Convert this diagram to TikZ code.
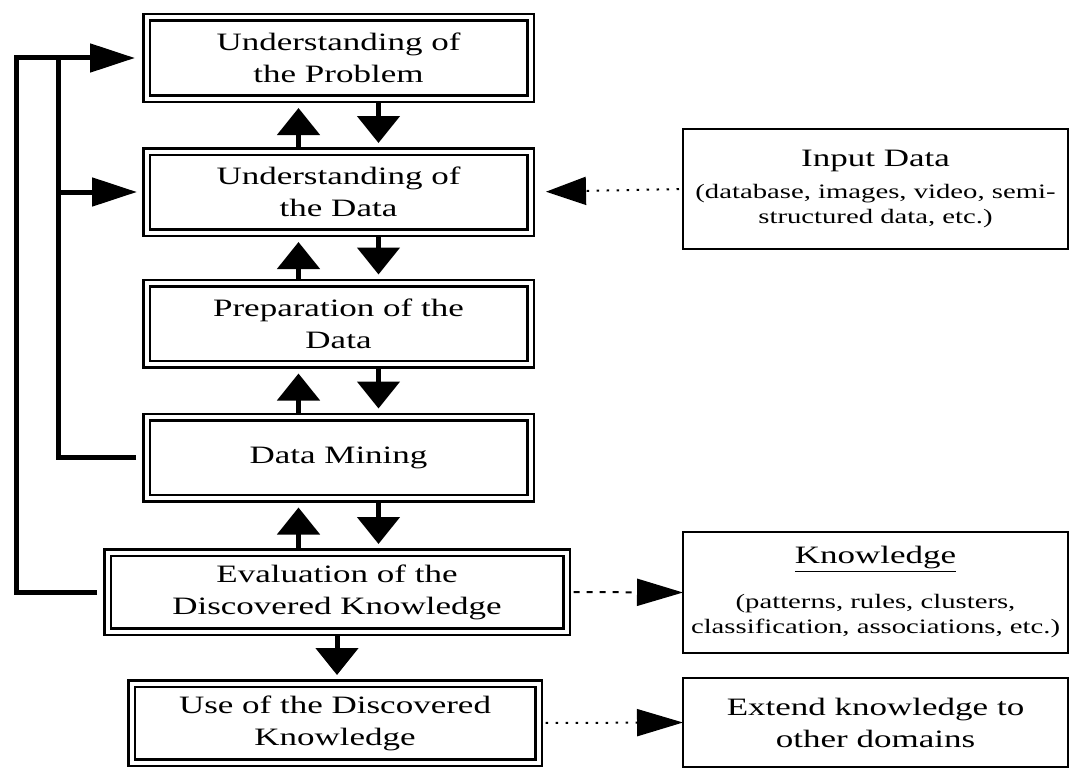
\documentclass[tikz,border=0pt]{standalone}
\usepackage{fontspec}
\setmainfont{Liberation Serif}[FakeStretch=1.4]
\usetikzlibrary{arrows.meta}
\begin{document}
\begin{tikzpicture}[x=1pt,y=-1pt,
  dbox/.style={draw, line width=2.5pt, double, double distance=4pt, outer sep=0pt, inner sep=0pt,
    align=center, font=\fontsize{25}{32}\selectfont},
  sbox/.style={draw, line width=2pt, outer sep=0pt, inner sep=0pt, align=center,
    minimum width=385pt},
  conn/.style={line width=5pt},
  stem/.style={line width=5pt, -{Triangle[length=27pt,width=42pt]}},
  htip/.style={-{Triangle[length=45pt,width=28pt]}},
  dotline/.style={line width=2pt, dash pattern=on 2.5pt off 7.5pt},
  dashline/.style={line width=2pt, dash pattern=on 6pt off 7pt},
  big/.style={font=\fontsize{25}{32}\selectfont},
  small/.style={font=\fontsize{20.5}{25}\selectfont}
]
\useasboundingbox (0,0) rectangle (1073,768);
\fill[white] (0,0) rectangle (1073,768);

\node[dbox, minimum width=384pt, minimum height=81pt] (prob) at (338.5,58) {Understanding of\\the Problem};
\node[dbox, minimum width=384pt, minimum height=81pt] (data) at (338.5,192) {Understanding of\\the Data};
\node[dbox, minimum width=384pt, minimum height=81pt] (prep) at (338.5,323.5) {Preparation of the\\Data};
\node[dbox, minimum width=384pt, minimum height=81pt] (mining) at (338.5,457.5) {Data Mining};
\node[dbox, minimum width=459pt, minimum height=79pt] (eval) at (337,592) {Evaluation of the\\Discovered Knowledge};
\node[dbox, minimum width=407pt, minimum height=79pt] (use) at (335,723) {Use of the Discovered\\Knowledge};

\node[sbox, small, minimum height=120pt] (input) at (875.5,189)
  {\fontsize{25}{30}\selectfont Input Data\\[7pt]
   (database, images, video, semi-\\structured data, etc.)};
\node[sbox, small, minimum height=121pt] (know) at (875.5,592.5)
  {\fontsize{25}{30}\selectfont \underline{Knowledge}\\[20pt]
   (patterns, rules, clusters,\\classification, associations, etc.)};
\node[sbox, minimum height=89pt, big] (extend) at (875.5,722.5) {Extend knowledge to\\other domains};

% vertical arrows between the process boxes
\foreach \a/\b in {prob/data, data/prep, prep/mining, mining/eval}{
  \draw[stem, shorten <=3pt, shorten >=9.5pt] ([xshift=-40pt]\b.north -| prob.south) -- ([xshift=-40pt]\a.south);
  \draw[stem, shorten <=3pt, shorten >=8.5pt] ([xshift=40pt]\a.south) -- ([xshift=40pt]\b.north -| prob.south);
}
\draw[stem, shorten <=3pt, shorten >=8.5pt] (eval.south) -- (eval.south |- use.north);

% feedback lines on the left
\coordinate (ob) at (16,592);
\coordinate (ib) at (58,457.5);
\draw[conn, htip, shorten <=10.5pt, shorten >=11.5pt] (eval.west) -- (ob) |- (prob.west);
\draw[conn, shorten <=10.5pt] (mining.west) -- (ib) -- (ib |- prob.west);
\draw[conn, htip, shorten >=9.5pt] (ib |- data.west) -- (data.west);

% side connectors
\draw[dotline, -{Triangle[length=40pt,width=28pt]}, shorten <=4pt, shorten >=15.5pt] (input.west) -- (data.east);
\draw[dashline, -{Triangle[length=46pt,width=27pt]}, shorten <=7pt] (eval.east) -- (know.west);
\draw[dotline, -{Triangle[length=46pt,width=27pt]}, shorten <=7pt] (use.east) -- (extend.west);
\end{tikzpicture}
\end{document}
